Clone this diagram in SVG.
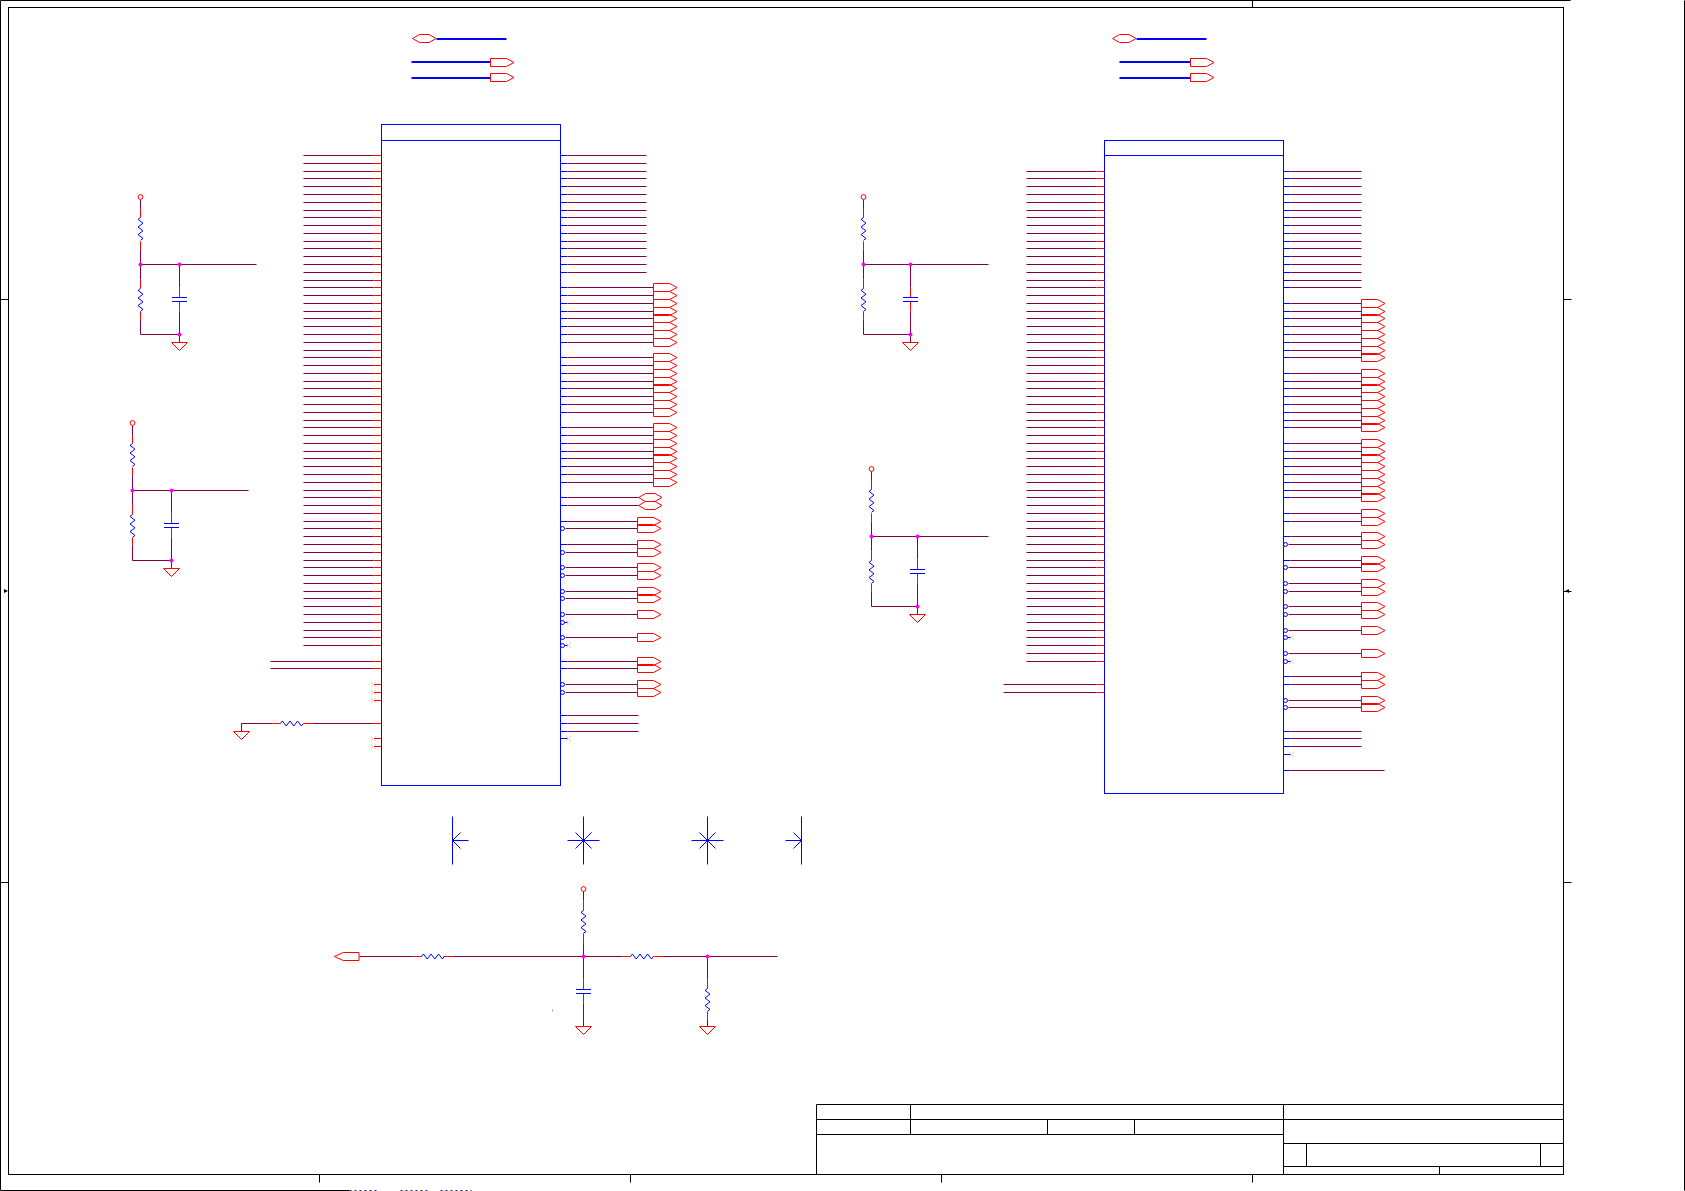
<svg xmlns="http://www.w3.org/2000/svg" xmlns:xlink="http://www.w3.org/1999/xlink" width="1685" height="1191" viewBox="0 0 1685 1191">
<style>
.k{fill:none;stroke:#000;stroke-width:1}
.b{fill:none;stroke:#0000ff;stroke-width:1}
.bb{fill:none;stroke:#0000ff;stroke-width:2}
.r{fill:none;stroke:#ff0000;stroke-width:1}
.w{fill:none;stroke:#800040;stroke-width:1}
.x{fill:none;stroke:#e8d4c0;stroke-width:1}
.j{fill:#ff00ff;stroke:none}
</style>
<defs>
<path id="rv" class="b" d="M0 0l-2.5 1.9 5 3.8-5 3.8 5 3.8-5 3.8 5 3.8-2.5 1.9"/>
<path id="rh" class="b" d="M0 0l1.9-2.5 3.8 5 3.8-5 3.8 5 3.8-5 3.8 5 1.9-2.5"/>
<path id="gnd" class="r" d="M-8 0H8L0 8Z"/>
<path id="po" class="r" d="M0-4H16L23.5 0 16 4H0Z"/>
<path id="hx" class="r" d="M0 0L7-4H16.5L23.5 0 16.5 4H7Z"/>
<path id="pi" class="r" d="M0 0L8.7-4H24.5V4H8.7Z"/>
<circle id="vcc" class="r" r="2.4"/>
<circle id="jn" class="j" r="2"/>
<circle id="bub" class="b" r="2"/>
<path id="nc" class="x" d="M-2.5-2.5L2.5 2.5M-2.5 2.5L2.5-2.5"/>
<path id="cv" class="b" d="M-7.5 0h15M-7.5 4h15"/>
<path id="ch" class="b" d="M0-7.5v15M4-7.5v15"/>
</defs>
<rect width="1685" height="1191" fill="#fff"/>
<g transform="translate(0.5,0.5)">
<g id="frame">
<rect class="k" x="8" y="7" width="1555" height="1167"/>
<path class="k" d="M0 0H1570M0 0V1190M1684 0V1190M0 1190H349M0 299H8M0 882H8M1563 299H1571M1563 882H1571M1252 0V7M319 1174V1182M630 1174V1182M941 1174V1182M1252 1174V1182M1563 591H1571"/>
<path d="M3.5 588.5V592.5L7.5 590.5ZM1568.5 588.5V592.5L1564.5 590.5Z" fill="#000"/>
<path d="M349 1190H378M400 1190H427M440 1190H471" fill="none" stroke="#30206a" stroke-width="1" stroke-dasharray="2 3"/>
<path id="stray-dot" d="M552 1009v2" fill="none" stroke="#999" stroke-width="1"/>
</g>
<g id="title-block">
<path class="k" d="M816 1104H1563M816 1119H1563M816 1134H1283M1283 1143H1563M1283 1166H1563M816 1104V1174M910 1104V1134M1047 1119V1134M1134 1119V1134M1283 1104V1174M1306 1143V1166M1540 1143V1166M1439 1166V1174"/>
</g>
<g id="connectors">
<path class="bb" d="M436 38.5H506M411 61.5H490M411 77.5H490M1136 38.5H1206M1119 61.5H1190M1119 77.5H1190"/>
<path id="chip1-left-wires" class="w" d="M303 155h70M303 163h70M303 171h70M303 178h70M303 186h70M303 194h70M303 202h70M303 210h70M303 217h70M303 225h70M303 233h70M303 241h70M303 248h70M303 256h70M303 264h70M303 272h70M303 280h70M303 287h70M303 295h70M303 303h70M303 311h70M303 318h70M303 326h70M303 334h70M303 342h70M303 350h70M303 357h70M303 365h70M303 373h70M303 381h70M303 388h70M303 396h70M303 404h70M303 412h70M303 420h70M303 427h70M303 435h70M303 443h70M303 451h70M303 458h70M303 466h70M303 474h70M303 482h70M303 490h70M303 497h70M303 505h70M303 513h70M303 521h70M303 528h70M303 536h70M303 544h70M303 552h70M303 560h70M303 567h70M303 575h70M303 583h70M303 591h70M303 598h70M303 606h70M303 614h70M303 622h70M303 630h70M303 637h70M303 645h70M270 661h103M270 668h103M312 723h61M241 723h31M241 723v8"/>
<path id="chip1-right-wires" class="w" d="M567 155h79M567 163h79M567 171h79M567 178h79M567 186h79M567 194h79M567 202h79M567 210h79M567 217h79M567 225h79M567 233h79M567 241h79M567 248h79M567 256h79M567 264h79M567 272h79M567 287h86M567 295h86M567 303h86M567 311h86M567 318h86M567 326h86M567 334h86M567 342h86M567 357h86M567 365h86M567 373h86M567 381h86M567 388h86M567 396h86M567 404h86M567 412h86M567 427h86M567 435h86M567 443h86M567 451h86M567 458h86M567 466h86M567 474h86M567 482h86M567 497h71M567 505h71M567 521h70M565 528h72M567 544h70M565 552h72M565 567h72M565 575h72M565 591h72M565 598h72M565 614h72M565 637h72M567 661h70M567 668h70M565 684h72M565 692h72M567 715h71M567 723h71M567 731h71"/>
<path id="chip2-left-wires" class="w" d="M1026 171h70M1026 178h70M1026 186h70M1026 194h70M1026 202h70M1026 210h70M1026 217h70M1026 225h70M1026 233h70M1026 241h70M1026 248h70M1026 256h70M1026 264h70M1026 272h70M1026 280h70M1026 287h70M1026 295h70M1026 303h70M1026 311h70M1026 318h70M1026 326h70M1026 334h70M1026 342h70M1026 350h70M1026 357h70M1026 365h70M1026 373h70M1026 381h70M1026 388h70M1026 396h70M1026 404h70M1026 412h70M1026 420h70M1026 427h70M1026 435h70M1026 443h70M1026 451h70M1026 458h70M1026 466h70M1026 474h70M1026 482h70M1026 490h70M1026 497h70M1026 505h70M1026 513h70M1026 521h70M1026 528h70M1026 536h70M1026 544h70M1026 552h70M1026 560h70M1026 567h70M1026 575h70M1026 583h70M1026 591h70M1026 598h70M1026 606h70M1026 614h70M1026 622h70M1026 630h70M1026 637h70M1026 645h70M1026 653h70M1026 661h70M1003 684h93M1003 692h93"/>
<path id="chip2-right-wires" class="w" d="M1290 171h71M1290 178h71M1290 186h71M1290 194h71M1290 202h71M1290 210h71M1290 217h71M1290 225h71M1290 233h71M1290 241h71M1290 248h71M1290 256h71M1290 264h71M1290 272h71M1290 280h71M1290 287h71M1290 303h71M1290 311h71M1290 318h71M1290 326h71M1290 334h71M1290 342h71M1290 350h71M1290 357h71M1290 373h71M1290 381h71M1290 388h71M1290 396h71M1290 404h71M1290 412h71M1290 420h71M1290 427h71M1290 443h71M1290 451h71M1290 458h71M1290 466h71M1290 474h71M1290 482h71M1290 490h71M1290 497h71M1290 513h71M1290 521h71M1290 536h71M1288 544h73M1290 560h71M1288 567h73M1288 583h73M1288 591h73M1288 606h73M1288 614h73M1288 630h73M1288 653h73M1290 676h71M1290 684h71M1288 700h73M1288 707h73M1290 731h71M1290 738h71M1290 746h71M1290 770h94"/>
<path id="rc-wires" class="w" d="M140 199v10M140 249v15M140 264v15M140 319v15H179M140 264H256M179 264v23M179 311v31M132 425v10M132 475v15M132 490v15M132 545v15H171M132 490H248M171 490v23M171 537v31M863 199v10M863 249v15M863 264v15M863 319v15H910M863 264H988M910 264v23M910 311v31M871 471v10M871 521v15M871 536v15M871 591v15H917M871 536H988M917 536v23M917 583v31M359 956h53M452 956H622M662 956H777M583 891v9M583 942v14M583 956v23M583 1003v23M707 956v23M707 1018v8"/>
</g>
<g id="chip1">
<rect class="b" x="381" y="124" width="179" height="661"/>
<path class="b" d="M381 140H560"/>
<path class="r" d="M373 155h8M373 163h8M373 171h8M373 178h8M373 186h8M373 194h8M373 202h8M373 210h8M373 217h8M373 225h8M373 233h8M373 241h8M373 248h8M373 256h8M373 264h8M373 272h8M373 280h8M373 287h8M373 295h8M373 303h8M373 311h8M373 318h8M373 326h8M373 334h8M373 342h8M373 350h8M373 357h8M373 365h8M373 373h8M373 381h8M373 388h8M373 396h8M373 404h8M373 412h8M373 420h8M373 427h8M373 435h8M373 443h8M373 451h8M373 458h8M373 466h8M373 474h8M373 482h8M373 490h8M373 497h8M373 505h8M373 513h8M373 521h8M373 528h8M373 536h8M373 544h8M373 552h8M373 560h8M373 567h8M373 575h8M373 583h8M373 591h8M373 598h8M373 606h8M373 614h8M373 622h8M373 630h8M373 637h8M373 645h8M373 661h8M373 668h8M373 684h8M373 692h8M373 700h8M373 723h8M373 738h8M373 746h8"/>
<path class="b" d="M560 155h7M560 163h7M560 171h7M560 178h7M560 186h7M560 194h7M560 202h7M560 210h7M560 217h7M560 225h7M560 233h7M560 241h7M560 248h7M560 256h7M560 264h7M560 272h7M560 287h7M560 295h7M560 303h7M560 311h7M560 318h7M560 326h7M560 334h7M560 342h7M560 357h7M560 365h7M560 373h7M560 381h7M560 388h7M560 396h7M560 404h7M560 412h7M560 427h7M560 435h7M560 443h7M560 451h7M560 458h7M560 466h7M560 474h7M560 482h7M560 497h7M560 505h7M560 521h7M560 544h7M560 661h7M560 668h7M560 715h7M560 723h7M560 731h7M560 738h7M564 622h3M564 645h3"/>
<g id="chip1-bubbles"><use href="#bub" x="562" y="528"/><use href="#bub" x="562" y="552"/><use href="#bub" x="562" y="567"/><use href="#bub" x="562" y="575"/><use href="#bub" x="562" y="591"/><use href="#bub" x="562" y="598"/><use href="#bub" x="562" y="614"/><use href="#bub" x="562" y="622"/><use href="#bub" x="562" y="637"/><use href="#bub" x="562" y="645"/><use href="#bub" x="562" y="684"/><use href="#bub" x="562" y="692"/></g>
<g id="chip1-nc"><use href="#nc" x="373" y="684"/><use href="#nc" x="373" y="692"/><use href="#nc" x="373" y="700"/><use href="#nc" x="373" y="738"/><use href="#nc" x="373" y="746"/><use href="#nc" x="568" y="622"/><use href="#nc" x="568" y="645"/><use href="#nc" x="568" y="738"/></g>
</g>
<g id="chip2">
<rect class="b" x="1104" y="140" width="179" height="653"/>
<path class="b" d="M1104 155H1283"/>
<path class="r" d="M1096 171h8M1096 178h8M1096 186h8M1096 194h8M1096 202h8M1096 210h8M1096 217h8M1096 225h8M1096 233h8M1096 241h8M1096 248h8M1096 256h8M1096 264h8M1096 272h8M1096 280h8M1096 287h8M1096 295h8M1096 303h8M1096 311h8M1096 318h8M1096 326h8M1096 334h8M1096 342h8M1096 350h8M1096 357h8M1096 365h8M1096 373h8M1096 381h8M1096 388h8M1096 396h8M1096 404h8M1096 412h8M1096 420h8M1096 427h8M1096 435h8M1096 443h8M1096 451h8M1096 458h8M1096 466h8M1096 474h8M1096 482h8M1096 490h8M1096 497h8M1096 505h8M1096 513h8M1096 521h8M1096 528h8M1096 536h8M1096 544h8M1096 552h8M1096 560h8M1096 567h8M1096 575h8M1096 583h8M1096 591h8M1096 598h8M1096 606h8M1096 614h8M1096 622h8M1096 630h8M1096 637h8M1096 645h8M1096 653h8M1096 661h8M1096 684h8M1096 692h8"/>
<path class="b" d="M1283 171h7M1283 178h7M1283 186h7M1283 194h7M1283 202h7M1283 210h7M1283 217h7M1283 225h7M1283 233h7M1283 241h7M1283 248h7M1283 256h7M1283 264h7M1283 272h7M1283 280h7M1283 287h7M1283 303h7M1283 311h7M1283 318h7M1283 326h7M1283 334h7M1283 342h7M1283 350h7M1283 357h7M1283 373h7M1283 381h7M1283 388h7M1283 396h7M1283 404h7M1283 412h7M1283 420h7M1283 427h7M1283 443h7M1283 451h7M1283 458h7M1283 466h7M1283 474h7M1283 482h7M1283 490h7M1283 497h7M1283 513h7M1283 521h7M1283 536h7M1283 560h7M1283 676h7M1283 684h7M1283 731h7M1283 738h7M1283 746h7M1283 754h7M1283 770h7M1287 637h3M1287 661h3"/>
<g id="chip2-bubbles"><use href="#bub" x="1285" y="544"/><use href="#bub" x="1285" y="567"/><use href="#bub" x="1285" y="583"/><use href="#bub" x="1285" y="591"/><use href="#bub" x="1285" y="606"/><use href="#bub" x="1285" y="614"/><use href="#bub" x="1285" y="630"/><use href="#bub" x="1285" y="637"/><use href="#bub" x="1285" y="653"/><use href="#bub" x="1285" y="661"/><use href="#bub" x="1285" y="700"/><use href="#bub" x="1285" y="707"/></g>
<g id="chip2-nc"><use href="#nc" x="1291" y="637"/><use href="#nc" x="1291" y="661"/><use href="#nc" x="1291" y="754"/></g>
</g>
<g id="chip1-top-ports"><use href="#hx" x="412" y="38"/><use href="#po" x="490" y="62"/><use href="#po" x="490" y="77"/></g>
<g id="chip2-top-ports"><use href="#hx" x="1112" y="38"/><use href="#po" x="1190" y="62"/><use href="#po" x="1190" y="77"/></g>
<g id="chip1-bus-a"><use href="#po" x="653" y="287"/><use href="#po" x="653" y="295"/><use href="#po" x="653" y="303"/><use href="#po" x="653" y="311"/><use href="#po" x="653" y="318"/><use href="#po" x="653" y="326"/><use href="#po" x="653" y="334"/><use href="#po" x="653" y="342"/></g>
<g id="chip1-bus-b"><use href="#po" x="653" y="357"/><use href="#po" x="653" y="365"/><use href="#po" x="653" y="373"/><use href="#po" x="653" y="381"/><use href="#po" x="653" y="388"/><use href="#po" x="653" y="396"/><use href="#po" x="653" y="404"/><use href="#po" x="653" y="412"/></g>
<g id="chip1-bus-c"><use href="#po" x="653" y="427"/><use href="#po" x="653" y="435"/><use href="#po" x="653" y="443"/><use href="#po" x="653" y="451"/><use href="#po" x="653" y="458"/><use href="#po" x="653" y="466"/><use href="#po" x="653" y="474"/><use href="#po" x="653" y="482"/></g>
<g id="chip1-ctrl-ports"><use href="#hx" x="638" y="497"/><use href="#hx" x="638" y="505"/><use href="#po" x="637" y="521"/><use href="#po" x="637" y="528"/><use href="#po" x="637" y="544"/><use href="#po" x="637" y="552"/><use href="#po" x="637" y="567"/><use href="#po" x="637" y="575"/><use href="#po" x="637" y="591"/><use href="#po" x="637" y="598"/><use href="#po" x="637" y="614"/><use href="#po" x="637" y="637"/><use href="#po" x="637" y="661"/><use href="#po" x="637" y="668"/><use href="#po" x="637" y="684"/><use href="#po" x="637" y="692"/></g>
<g id="chip2-bus-a"><use href="#po" x="1361" y="303"/><use href="#po" x="1361" y="311"/><use href="#po" x="1361" y="318"/><use href="#po" x="1361" y="326"/><use href="#po" x="1361" y="334"/><use href="#po" x="1361" y="342"/><use href="#po" x="1361" y="350"/><use href="#po" x="1361" y="357"/></g>
<g id="chip2-bus-b"><use href="#po" x="1361" y="373"/><use href="#po" x="1361" y="381"/><use href="#po" x="1361" y="388"/><use href="#po" x="1361" y="396"/><use href="#po" x="1361" y="404"/><use href="#po" x="1361" y="412"/><use href="#po" x="1361" y="420"/><use href="#po" x="1361" y="427"/></g>
<g id="chip2-bus-c"><use href="#po" x="1361" y="443"/><use href="#po" x="1361" y="451"/><use href="#po" x="1361" y="458"/><use href="#po" x="1361" y="466"/><use href="#po" x="1361" y="474"/><use href="#po" x="1361" y="482"/><use href="#po" x="1361" y="490"/><use href="#po" x="1361" y="497"/></g>
<g id="chip2-ctrl-ports"><use href="#po" x="1361" y="513"/><use href="#po" x="1361" y="521"/><use href="#po" x="1361" y="536"/><use href="#po" x="1361" y="544"/><use href="#po" x="1361" y="560"/><use href="#po" x="1361" y="567"/><use href="#po" x="1361" y="583"/><use href="#po" x="1361" y="591"/><use href="#po" x="1361" y="606"/><use href="#po" x="1361" y="614"/><use href="#po" x="1361" y="630"/><use href="#po" x="1361" y="653"/><use href="#po" x="1361" y="676"/><use href="#po" x="1361" y="684"/><use href="#po" x="1361" y="700"/><use href="#po" x="1361" y="707"/></g>
<g id="rc-network-1"><use href="#vcc" x="140" y="196.5"/><path class="r" d="M140 209v8M140 241v8M140 279v9M140 311v8M179 287v10M179 301v10"/><use href="#rv" x="140" y="217"/><use href="#rv" x="140" y="288"/><use href="#cv" x="179" y="297"/><use href="#jn" x="140" y="264"/><use href="#jn" x="179" y="264"/><use href="#jn" x="179" y="334"/><use href="#gnd" x="179" y="342"/></g>
<g id="rc-network-2"><use href="#vcc" x="132" y="422.5"/><path class="r" d="M132 435v8M132 467v8M132 505v9M132 537v8M171 513v10M171 527v10"/><use href="#rv" x="132" y="443"/><use href="#rv" x="132" y="514"/><use href="#cv" x="171" y="523"/><use href="#jn" x="132" y="490"/><use href="#jn" x="171" y="490"/><use href="#jn" x="171" y="560"/><use href="#gnd" x="171" y="568"/></g>
<g id="rc-network-3"><use href="#vcc" x="863" y="196.5"/><path class="r" d="M863 209v8M863 241v8M863 279v9M863 311v8M910 287v10M910 301v10"/><use href="#rv" x="863" y="217"/><use href="#rv" x="863" y="288"/><use href="#cv" x="910" y="297"/><use href="#jn" x="863" y="264"/><use href="#jn" x="910" y="264"/><use href="#jn" x="910" y="334"/><use href="#gnd" x="910" y="342"/></g>
<g id="rc-network-4"><use href="#vcc" x="871" y="468.5"/><path class="r" d="M871 481v8M871 513v8M871 551v9M871 583v8M917 559v10M917 573v10"/><use href="#rv" x="871" y="489"/><use href="#rv" x="871" y="560"/><use href="#cv" x="917" y="569"/><use href="#jn" x="871" y="536"/><use href="#jn" x="917" y="536"/><use href="#jn" x="917" y="606"/><use href="#gnd" x="917" y="614"/></g>
<g id="chip1-pulldown"><path class="r" d="M272 723h8M303 723h9"/><use href="#rh" x="280" y="723"/><use href="#gnd" x="241" y="731"/></g>
<g id="bottom-port"><use href="#pi" x="334" y="956"/></g>
<g id="bottom-r1"><path class="r" d="M412 956h9M443 956h9"/><use href="#rh" x="421" y="956"/></g>
<g id="bottom-r2"><use href="#vcc" x="583" y="888.5"/><path class="r" d="M583 900v10M583 933v9"/><use href="#rv" x="583" y="910"/><use href="#jn" x="583" y="956"/></g>
<g id="bottom-c"><path class="r" d="M583 979v10M583 993v10"/><use href="#cv" x="583" y="989"/><use href="#gnd" x="583" y="1026"/></g>
<g id="bottom-r3"><path class="r" d="M622 956h8M653 956h9"/><use href="#rh" x="630" y="956"/><use href="#jn" x="707" y="956"/></g>
<g id="bottom-r4"><path class="r" d="M707 979v9M707 1011v7"/><use href="#rv" x="707" y="988"/><use href="#gnd" x="707" y="1026"/></g>
<g id="test-points">
<path class="b" d="M452 816v48M452 840h16M452 840l8-8M452 840l8 8"/>
<path class="b" d="M583 816v48M567 840h32M583 840l-8-8M583 840l8-8M583 840l-8 8M583 840l8 8"/>
<path class="b" d="M707 816v48M691 840h32M707 840l-8-8M707 840l8-8M707 840l-8 8M707 840l8 8"/>
<path class="b" d="M801 816v48M785 840h16M801 840l-8-8M801 840l-8 8"/>
</g>
</g>
</svg>
